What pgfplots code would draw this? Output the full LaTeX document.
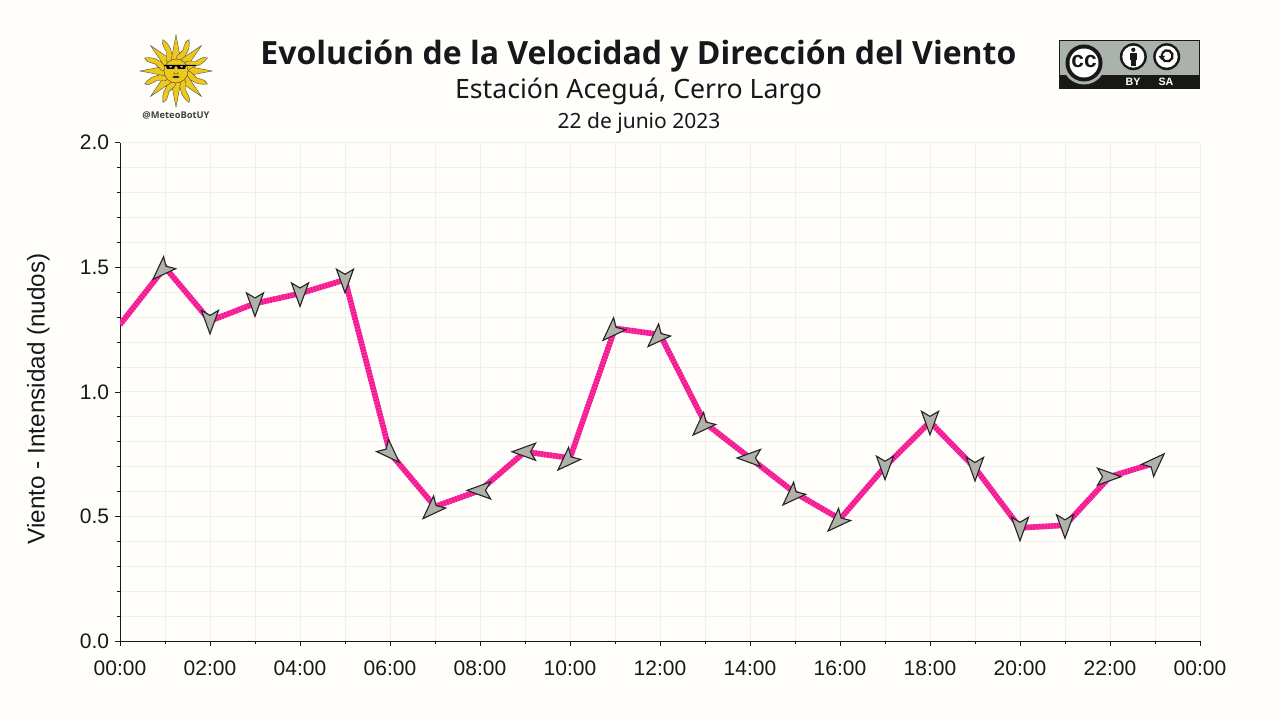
\documentclass[border=0pt]{standalone}
\usepackage{pgfplots}
\pgfplotsset{compat=1.18}
\usepackage{pgfplotstable}
\usepackage{fontspec}
\setmainfont{Liberation Sans}
\newfontfamily\noto{Noto Sans}
\newfontfamily\open{Open Sans}

\definecolor{bgc}{HTML}{FFFEFA}
\definecolor{gridc}{HTML}{F0F0EA}
\definecolor{txt}{HTML}{18181C}
\definecolor{linea}{HTML}{FF2F9F}
\definecolor{lineb}{HTML}{E8148C}
\definecolor{arrowfill}{HTML}{B0B2AA}
\definecolor{arrowline}{HTML}{26262A}
\definecolor{sun}{HTML}{EFC91A}
\definecolor{ccgrey}{HTML}{AAB2AB}
\definecolor{ccdark}{HTML}{181816}

% barb marker, tip towards +x
\pgfdeclareplotmark{barb}{%
  \pgfpathmoveto{\pgfpoint{9.75pt}{0pt}}%
  \pgfpathlineto{\pgfpoint{-7.9pt}{6.4pt}}%
  \pgfpathlineto{\pgfpoint{-4.1pt}{0pt}}%
  \pgfpathlineto{\pgfpoint{-7.9pt}{-6.4pt}}%
  \pgfpathclose
  \pgfusepathqfillstroke
}

\pgfplotstableread{
hour vel
0  1.27
1  1.50
2  1.285
3  1.355
4  1.395
5  1.45
6  0.755
7  0.54
8  0.605
9  0.76
10 0.735
11 1.255
12 1.23
13 0.875
14 0.735
15 0.595
16 0.49
17 0.70
18 0.88
19 0.695
20 0.455
21 0.465
22 0.66
23 0.715
}\viento

\pgfplotstableread{
hour vel dir
1  1.50  -135
2  1.285 -90
3  1.355 -90
4  1.395 -90
5  1.45  -90
6  0.755 -45
7  0.54  -135
8  0.605 180
9  0.76  180
10 0.735 -135
11 1.255 -135
12 1.23  -135
13 0.875 -135
14 0.735 180
15 0.595 -135
16 0.49  -135
17 0.70  -90
18 0.88  -90
19 0.695 -90
20 0.455 -90
21 0.465 -90
22 0.66  0
23 0.715 45
}\flechas

\begin{document}
\begin{tikzpicture}[x=0.75pt,y=0.75pt]
\useasboundingbox (0,0) rectangle (1280,720);
\fill[bgc] (0,0) rectangle (1280,720);

\begin{axis}[
    at={(90pt,59.1pt)}, anchor=south west,
    scale only axis,
    width=810pt, height=373.9pt,
    xmin=0, xmax=24, ymin=0, ymax=2,
    axis y line*=left,
    axis x line*=bottom,
    axis line style={-, color=txt, line width=0.75pt},
    xtick={0,2,...,24},
    xticklabels={00:00,02:00,04:00,06:00,08:00,10:00,12:00,14:00,16:00,18:00,20:00,22:00,00:00},
    minor xtick={1,3,...,23},
    ytick={0,0.5,1,1.5,2},
    yticklabels={0.0,0.5,1.0,1.5,2.0},
    minor ytick={0.1,0.2,0.3,0.4,0.6,0.7,0.8,0.9,1.1,1.2,1.3,1.4,1.6,1.7,1.8,1.9},
    grid=both,
    major grid style={gridc, line width=0.75pt},
    minor grid style={gridc, line width=0.75pt},
    tick align=outside,
    major tick length=3.4pt,
    minor tick length=2.4pt,
    tick style={color=txt, line width=0.6pt},
    tick label style={font=\fontsize{15.75pt}{18pt}\selectfont, text=txt},
    xticklabel style={yshift=-7.5pt},
    yticklabel style={xshift=-1.25pt},
    ylabel={Viento - Intensidad (nudos)},
    every axis y label/.style={at={(axis description cs:-0.0755,0.486)},rotate=90,anchor=center,
      font=\fontsize{18.2pt}{20pt}\selectfont, text=txt},
    clip=true,
]
\addplot[linea, line width=4.2pt, line join=miter] table[x=hour,y=vel] {\viento};
\addplot[lineb, line width=4.2pt, line join=miter, dash pattern=on 0.8pt off 1.45pt] table[x=hour,y=vel] {\viento};
% the SW and E barbs sit a little off the point in the reference
\addplot[scatter, only marks, mark=barb,
    point meta=explicit symbolic,
    scatter/@pre marker code/.code={\pgfscope\pgftransformrotate{\pgfplotspointmeta}%
      \ifnum\pgfplotspointmeta=-135 \pgftransformxshift{3pt}\fi
      \ifnum\pgfplotspointmeta=0 \pgftransformxshift{-1.5pt}\fi
      \pgfsetfillcolor{arrowfill}\pgfsetstrokecolor{arrowline}\pgfsetlinewidth{0.85pt}\pgfsetmiterjoin},
    scatter/@post marker code/.code={\endpgfscope},
] table[x=hour,y=vel,meta=dir] {\flechas};
\end{axis}

% everything below in image pixels, y down
\begin{scope}[shift={(0,720)},yscale=-1]
\node[text=txt,font=\open\bfseries\fontsize{24pt}{28pt}\selectfont] at (638.5,56.5) {Evolución de la Velocidad y Dirección del Viento};
\node[text=txt,font=\noto\fontsize{20pt}{24pt}\selectfont] at (638.5,91) {Estación Aceguá, Cerro Largo};
\node[text=txt,font=\noto\fontsize{15.75pt}{18pt}\selectfont] at (639,123) {22 de junio 2023};

% sol
\begin{scope}[shift={(176,71)}]
  \foreach \a in {0,45,...,315} {
    \filldraw[rotate=\a, fill=sun, draw=black!70, line width=0.3pt]
      (10,-5) -- (36,0) -- (10,5) -- cycle;
    \filldraw[rotate=\a+22.5, fill=sun, draw=black!70, line width=0.3pt]
      (10,-4.5) .. controls (16,-7) and (20,1) .. (26,-2) .. controls (29,-3) and (31,-2) .. (34,0)
      .. controls (29,3) and (24,4) .. (20,3) .. controls (16,2) and (14,4) .. (10,4.5) -- cycle;
  }
  \filldraw[fill=sun, draw=black!70, line width=0.35pt] (0,0) circle (12);
  \fill[black] (-12,-6) -- (20,-6) -- (20,-5.2) -- (10,-5.2) -- (9,-2) -- (2,-2) -- (1,-4.6) -- (-1,-4.6) -- (-2,-2) -- (-9,-2) -- (-10,-5.2) -- (-12,-5.2) -- cycle;
  \fill[white!75!black] (-7,-4.8) -- (-4,-4.8) -- (-5,-2.8) -- cycle;
  \fill[white!75!black] (4,-4.8) -- (7,-4.8) -- (6,-2.8) -- cycle;
  \draw[black!70, line width=0.35pt] (-1.5,1.5) -- (-2.2,2.8) -- (2.2,2.8) -- (1.5,1.5);
  \fill[black!85] (-4,6) .. controls (-2,4.6) and (2,4.6) .. (4,6) .. controls (2,7.6) and (-2,7.6) .. (-4,6) -- cycle;
\end{scope}
\node[text=black!75,font=\open\bfseries\fontsize{7pt}{8pt}\selectfont] at (176,115) {@MeteoBotUY};

% cc by-sa
\fill[ccgrey] (1059,40) rectangle (1200,89);
\fill[ccdark] (1059,75) rectangle (1200,89);
\draw[ccdark, line width=0.9pt] (1059.5,40.5) rectangle (1199.5,88.5);
\fill[ccgrey] (1084,63) circle (21.5);
\fill[ccdark] (1084,63) circle (18.5);
\fill[white] (1084,63) circle (14.5);
\node[text=ccdark,font=\bfseries\fontsize{17pt}{18pt}\selectfont] at (1084,61.5) {cc};
\fill[ccdark] (1133.3,56.7) circle (13.5);
\fill[white] (1133.3,56.7) circle (11);
\fill[ccdark] (1133.3,49.8) circle (2.1);
\fill[ccdark] (1129.5,53) rectangle (1137,60.5);
\fill[ccdark] (1131,60) rectangle (1135.6,66.5);
\fill[ccdark] (1166.7,56.7) circle (13.5);
\fill[white] (1166.7,56.7) circle (11);
\draw[ccdark, line width=1.7pt] (1162,53.5) arc[start angle=205, end angle=-150, radius=5.6];
\fill[ccdark] (1158.5,56) -- (1165,56) -- (1161.8,60) -- cycle;
\node[text=white,font=\bfseries\fontsize{8pt}{9pt}\selectfont] at (1133,82) {BY};
\node[text=white,font=\bfseries\fontsize{8pt}{9pt}\selectfont] at (1166,82) {SA};
\end{scope}
\end{tikzpicture}
\end{document}
